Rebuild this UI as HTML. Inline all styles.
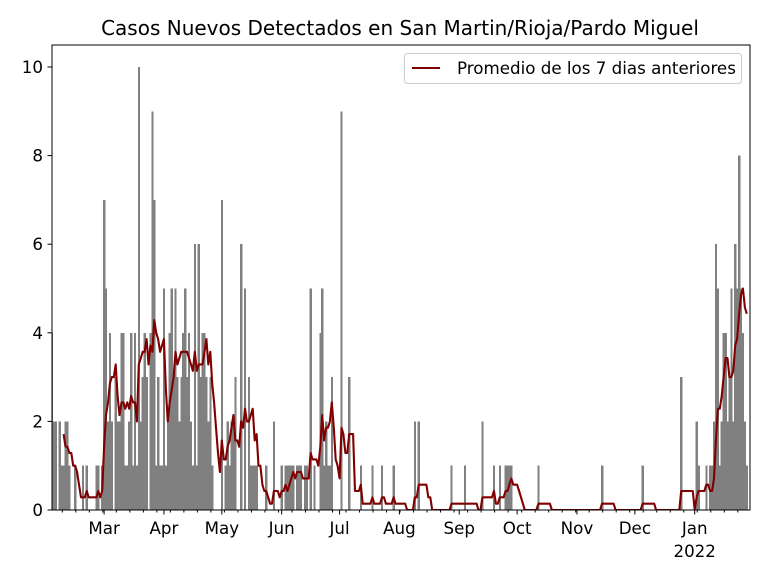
<!DOCTYPE html>
<html><head><meta charset="utf-8"><style>
body{margin:0;background:#fff;}
svg{display:block;font-family:"DejaVu Sans","Liberation Sans",sans-serif;}
</style></head><body>
<svg id="s" width="768" height="576" xmlns="http://www.w3.org/2000/svg"></svg>
<script>
const N=361, v=new Array(N).fill(0);
const set={0:4,1:2,2:2,4:2,5:1,6:1,7:2,8:2,9:1,12:1,16:1,18:1,23:1,24:1,26:1,27:7,28:5,29:2,30:4,31:2,33:3,34:2,35:2,36:4,37:4,38:1,39:1,40:2,41:4,42:1,43:4,44:1,45:10,46:2,47:3,48:4,49:3,51:4,52:9,53:7,54:1,55:3,56:1,57:1,58:5,59:1,60:2,61:4,62:5,63:3,
64:5,65:3,66:2,67:3,68:4,69:5,70:3,71:4,72:2,73:1,74:6,75:1,76:6,77:3,78:4,79:4,80:3,81:2,82:3,83:1,88:7,90:1,91:2,92:1,93:2,94:2,95:3,98:6,100:5,102:3,103:1,104:1,105:1,106:1,111:1,115:2,119:1,121:1,122:1,123:1,124:1,125:1,127:1,128:1,129:1,131:1,132:1,134:5,136:1,139:4,140:5,141:1,142:2,143:1,144:1,145:3,150:9,154:3,160:1,166:1,171:1,177:1,188:2,190:2,207:1,214:1,223:2,229:1,232:1,235:1,236:1,237:1,238:1,252:1,285:1,306:1,326:3,334:2,335:1,339:1,341:1,342:1,343:2,344:6,345:5,346:1,347:2,348:4,349:4,350:2,351:3,352:5,353:2,354:6,355:5,356:8,357:5,358:4,359:2,360:1};
for(const k in set)v[k]=set[k];
const X=d=>52+1.93*d, Y=val=>510-44.3*val;
let h='';
h+='<text x="400" y="35" font-size="20" text-anchor="middle">Casos Nuevos Detectados en San Martin/Rioja/Pardo Miguel</text>';
h+='<defs><clipPath id="c"><rect x="52" y="45" width="698" height="465"/></clipPath></defs><g clip-path="url(#c)">';
let b='';
for(let d=0;d<N;d++) if(v[d]>0) b+=`<rect x="${(X(d)-1.0).toFixed(2)}" y="${Y(v[d]).toFixed(1)}" width="2.2" height="${(44.3*v[d]).toFixed(1)}"/>`;
h+=`<g fill="#808080" shape-rendering="crispEdges">${b}</g>`;
let p=[];
for(let d=6;d<N;d++){let s=0;for(let j=d-6;j<=d;j++)s+=v[j];p.push(X(d).toFixed(1)+','+Y(s/7).toFixed(1));}
h+=`<polyline points="${p.join(' ')}" fill="none" stroke="#800000" stroke-width="2.1" stroke-linejoin="round"/></g>`;
h+='<rect x="52" y="45" width="698" height="465" fill="none" stroke="#000" stroke-width="1"/>';
for(let i=0;i<=5;i++){const y=Y(2*i);h+=`<line x1="47.5" x2="52" y1="${y}" y2="${y}" stroke="#000"/><text x="43" y="${y+6}" font-size="16.7" text-anchor="end">${2*i}</text>`;}
for(let x=62.3;x<750;x+=13.51) h+=`<line x1="${x}" x2="${x}" y1="510" y2="512.5" stroke="#000"/>`;
const m=[["Mar",27],["Apr",58],["May",88],["Jun",119],["Jul",149],["Aug",180],["Sep",211],["Oct",241],["Nov",272],["Dec",302],["Jan",333]];
for(const [n,d] of m){const x=X(d);h+=`<line x1="${x}" x2="${x}" y1="510" y2="514.5" stroke="#000"/><text x="${x}" y="534" font-size="16.7" text-anchor="middle">${n}</text>`;}
h+=`<text x="${X(333)}" y="557" font-size="16.7" text-anchor="middle">2022</text>`;
h+='<rect x="404.5" y="53.5" width="337" height="30" rx="3" fill="#fff" fill-opacity="0.8" stroke="#ccc"/>';
h+='<line x1="412" x2="440" y1="68" y2="68" stroke="#800000" stroke-width="2.1"/>';
h+='<text x="457" y="74" font-size="16.7">Promedio de los 7 dias anteriores</text>';
document.getElementById('s').innerHTML=h;
</script>
</body></html>
